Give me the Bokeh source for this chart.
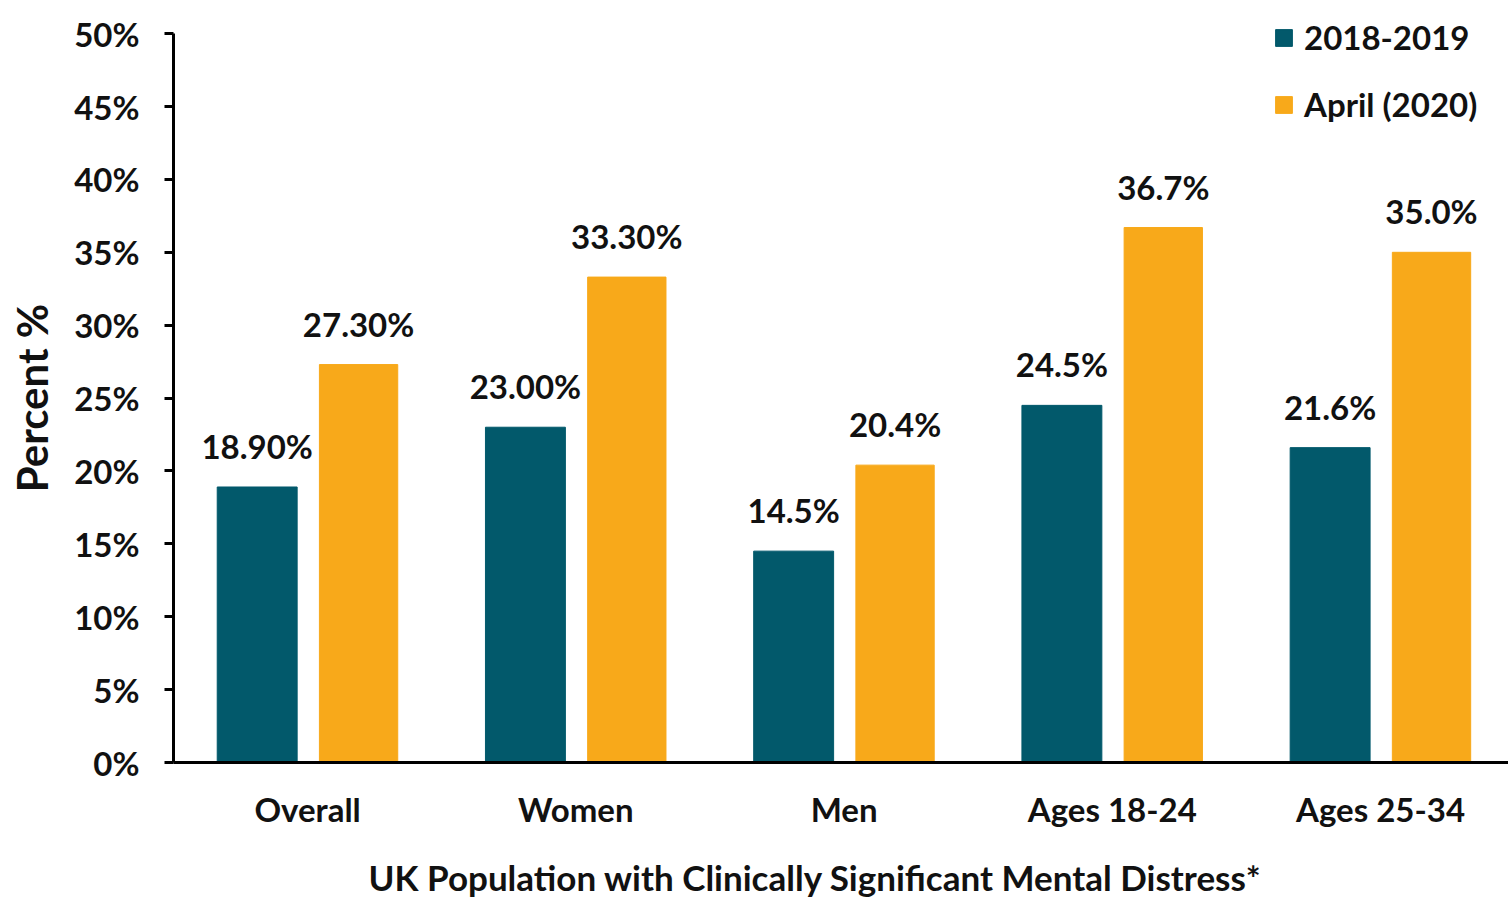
from bokeh.plotting import figure
from bokeh.models import (Range1d, FixedTicker, Legend, LegendItem, LinearAxis,
                          ColumnDataSource)
from bokeh.transform import dodge
from bokeh.core.properties import value
from bokeh.embed import file_html
from bokeh.resources import INLINE

# ---------------- data ----------------
categories = ["Overall", "Women", "Men", "Ages 18-24", "Ages 25-34"]
series_names = ["2018-2019", "April (2020)"]
values_2018_2019 = [18.9, 23.0, 14.5, 24.5, 21.6]
values_april_2020 = [27.3, 33.3, 20.4, 36.7, 35.0]
labels_2018_2019 = ["18.90%", "23.00%", "14.5%", "24.5%", "21.6%"]
labels_april_2020 = ["27.30%", "33.30%", "20.4%", "36.7%", "35.0%"]
y_ticks = [0, 5, 10, 15, 20, 25, 30, 35, 40, 45, 50]
y_tick_labels = ["0%", "5%", "10%", "15%", "20%", "25%", "30%", "35%",
                 "40%", "45%", "50%"]
x_title = "UK Population with Clinically Significant Mental Distress*"
y_title = "Percent %"

# ---------------- style / layout ----------------
FONT = "Lato"
TEAL = "#02596B"
ORANGE = "#F8A91A"
INK = "#111111"
TITLE_X = 2.393          # horizontal anchor of the x title (data units)
Y_AXIS_END = 50
Y_TITLE_Y = 25           # vertical anchor of the y title (data units)

centers = [i + 0.5 for i in range(len(categories))]
src = ColumnDataSource(dict(x=centers, cat=categories,
                            v1=values_2018_2019, v2=values_april_2020,
                            l1=labels_2018_2019, l2=labels_april_2020))

p = figure(width=1508, height=900, output_backend="svg", toolbar_location=None,
           x_range=Range1d(0, 4.977), y_range=Range1d(0, 52),
           min_border_left=173, min_border_right=0, min_border_top=4,
           min_border_bottom=138)
p.outline_line_color = None
p.xgrid.visible = False
p.ygrid.visible = False

r1 = p.vbar(x=dodge("x", -0.188, range=p.x_range), top="v1", width=0.298,
            source=src, fill_color=TEAL, line_color=TEAL)
r2 = p.vbar(x=dodge("x", 0.19, range=p.x_range), top="v2", width=0.292,
            source=src, fill_color=ORANGE, line_color=ORANGE)

for dx, col, lab in [(-0.188, "v1", "l1"), (0.19, "v2", "l2")]:
    p.text(x=dodge("x", dx, range=p.x_range), y=col, text=lab, source=src,
           text_align="center", text_baseline="alphabetic", y_offset=-41,
           text_font=value(FONT), text_font_style="bold",
           text_font_size="33px", text_color=INK)

# y axis
ya = p.yaxis[0]
ya.bounds = (0, Y_AXIS_END)
ya.ticker = FixedTicker(ticks=y_ticks)
ya.major_label_overrides = dict(zip(y_ticks, y_tick_labels))
ya.axis_line_width = 3
ya.major_tick_line_width = 3
ya.major_tick_out = 9
ya.major_tick_in = 0
ya.minor_tick_line_color = None
ya.major_label_standoff = 25
ya.major_label_text_font = FONT
ya.major_label_text_font_style = "bold"
ya.major_label_text_font_size = "33px"
ya.major_label_text_color = INK

# y title, drawn as a label-only axis left of the value axis
yt = LinearAxis(ticker=FixedTicker(ticks=[Y_TITLE_Y]),
                major_label_overrides={Y_TITLE_Y: y_title},
                major_label_orientation="vertical",
                axis_line_color=None, major_tick_line_color=None,
                minor_tick_line_color=None, major_tick_out=0, major_tick_in=0,
                major_label_standoff=14, major_label_text_font=FONT,
                major_label_text_font_style="bold",
                major_label_text_font_size="42px",
                major_label_text_color=INK)
p.add_layout(yt, "left")

# x axis (categories)
xa = p.xaxis[0]
xa.ticker = FixedTicker(ticks=centers)
xa.major_label_overrides = dict(zip(centers, categories))
xa.axis_line_width = 3
xa.major_tick_line_color = None
xa.major_tick_out = 0
xa.major_tick_in = 0
xa.minor_tick_line_color = None
xa.major_label_standoff = 26
xa.major_label_text_font = FONT
xa.major_label_text_font_style = "bold"
xa.major_label_text_font_size = "33px"
xa.major_label_text_color = INK

# x title, drawn as a label-only axis below the category axis
ta = LinearAxis(ticker=FixedTicker(ticks=[TITLE_X]),
                major_label_overrides={TITLE_X: x_title},
                axis_line_color=None, major_tick_line_color=None,
                minor_tick_line_color=None, major_tick_out=0, major_tick_in=0,
                major_label_standoff=24, major_label_text_font=FONT,
                major_label_text_font_style="bold",
                major_label_text_font_size="35px",
                major_label_text_color=INK)
p.add_layout(ta, "below")

legend = Legend(items=[LegendItem(label=series_names[0], renderers=[r1]),
                       LegendItem(label=series_names[1], renderers=[r2])],
                location=(1100, 638), glyph_width=21, glyph_height=21,
                label_standoff=10, spacing=27, padding=0, margin=0,
                border_line_color=None, background_fill_alpha=0,
                label_text_font=FONT, label_text_font_style="bold",
                label_text_font_size="33px", label_text_color=INK)
p.add_layout(legend)

open("out.html", "w").write(file_html(p, INLINE))
